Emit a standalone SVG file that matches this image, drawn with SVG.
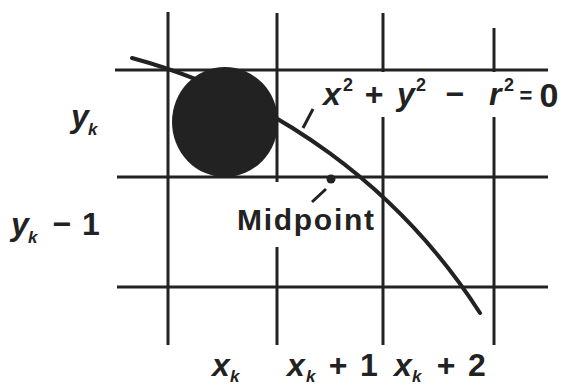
<svg xmlns="http://www.w3.org/2000/svg" width="565" height="385" viewBox="0 0 565 385">
<style>
.grid{stroke:#222;stroke-width:3;fill:none;stroke-linecap:butt}
.curve{stroke:#222;stroke-width:4;fill:none;stroke-linecap:round}
.lead{stroke:#222;stroke-width:3;fill:none}
text{font-family:"Liberation Sans",Arial,sans-serif;font-weight:bold;fill:#222}
.v{font-style:italic;font-size:32px}
.n{font-size:32px}
.sub{font-style:italic;font-size:17px}
.sup{font-size:18px}
</style>
<rect width="565" height="385" fill="#fff"/>
<g id="grid">
  <line class="grid" x1="115" y1="70" x2="548" y2="70"/>
  <line class="grid" x1="117" y1="177" x2="548" y2="177"/>
  <line class="grid" x1="117" y1="287" x2="548" y2="287"/>
  <line class="grid" x1="168" y1="12" x2="168" y2="345"/>
  <line class="grid" x1="277" y1="13" x2="277" y2="182"/>
  <line class="grid" x1="277" y1="247" x2="277" y2="345"/>
  <line class="grid" x1="383" y1="13" x2="383" y2="72"/>
  <line class="grid" x1="383" y1="117" x2="383" y2="345"/>
  <line class="grid" x1="494" y1="28" x2="494" y2="72"/>
  <line class="grid" x1="494" y1="117" x2="494" y2="345"/>
</g>
<g id="pixel">
  <ellipse cx="225" cy="122" rx="53" ry="55" fill="#222"/>
</g>
<g id="connectors">
  <path class="curve" d="M132,58 A601,601 0 0,1 480,313"/>
  <line class="lead" x1="303" y1="128" x2="313" y2="109"/>
  <line class="lead" x1="312" y1="202" x2="326" y2="189"/>
</g>
<g id="midpoint">
  <circle cx="331" cy="179" r="4.5" fill="#222"/>
  <text x="237" y="230" font-size="30" textLength="137">Midpoint</text>
</g>
<g id="equation">
  <text class="v" x="323" y="105">x</text>
  <text class="sup" x="343" y="91">2</text>
  <text class="n" x="374" y="105" text-anchor="middle">+</text>
  <text class="v" x="397" y="105">y</text>
  <text class="sup" x="416" y="91">2</text>
  <text class="n" x="455" y="105" text-anchor="middle">−</text>
  <text class="v" x="489" y="105">r</text>
  <text class="sup" x="504" y="91">2</text>
  <text x="526" y="103" font-size="22" text-anchor="middle">=</text>
  <text x="549" y="107" font-size="34" text-anchor="middle">0</text>
</g>
<g id="label-yk">
  <text class="v" x="71" y="127">y</text>
  <text class="sub" x="88" y="135">k</text>
</g>
<g id="label-yk1">
  <text class="v" x="11" y="235">y</text>
  <text class="sub" x="28" y="243">k</text>
  <text class="n" x="62" y="235" text-anchor="middle">−</text>
  <text class="n" x="91" y="235" text-anchor="middle">1</text>
</g>
<g id="label-xk">
  <text class="v" x="212" y="376">x</text>
  <text class="sub" x="230" y="382">k</text>
</g>
<g id="label-xk1">
  <text class="v" x="287" y="376">x</text>
  <text class="sub" x="306" y="382">k</text>
  <text class="n" x="338" y="376" text-anchor="middle">+</text>
  <text class="n" x="369" y="376" text-anchor="middle">1</text>
</g>
<g id="label-xk2">
  <text class="v" x="394" y="376">x</text>
  <text class="sub" x="412" y="382">k</text>
  <text class="n" x="446" y="376" text-anchor="middle">+</text>
  <text class="n" x="477" y="376" text-anchor="middle">2</text>
</g>
</svg>
